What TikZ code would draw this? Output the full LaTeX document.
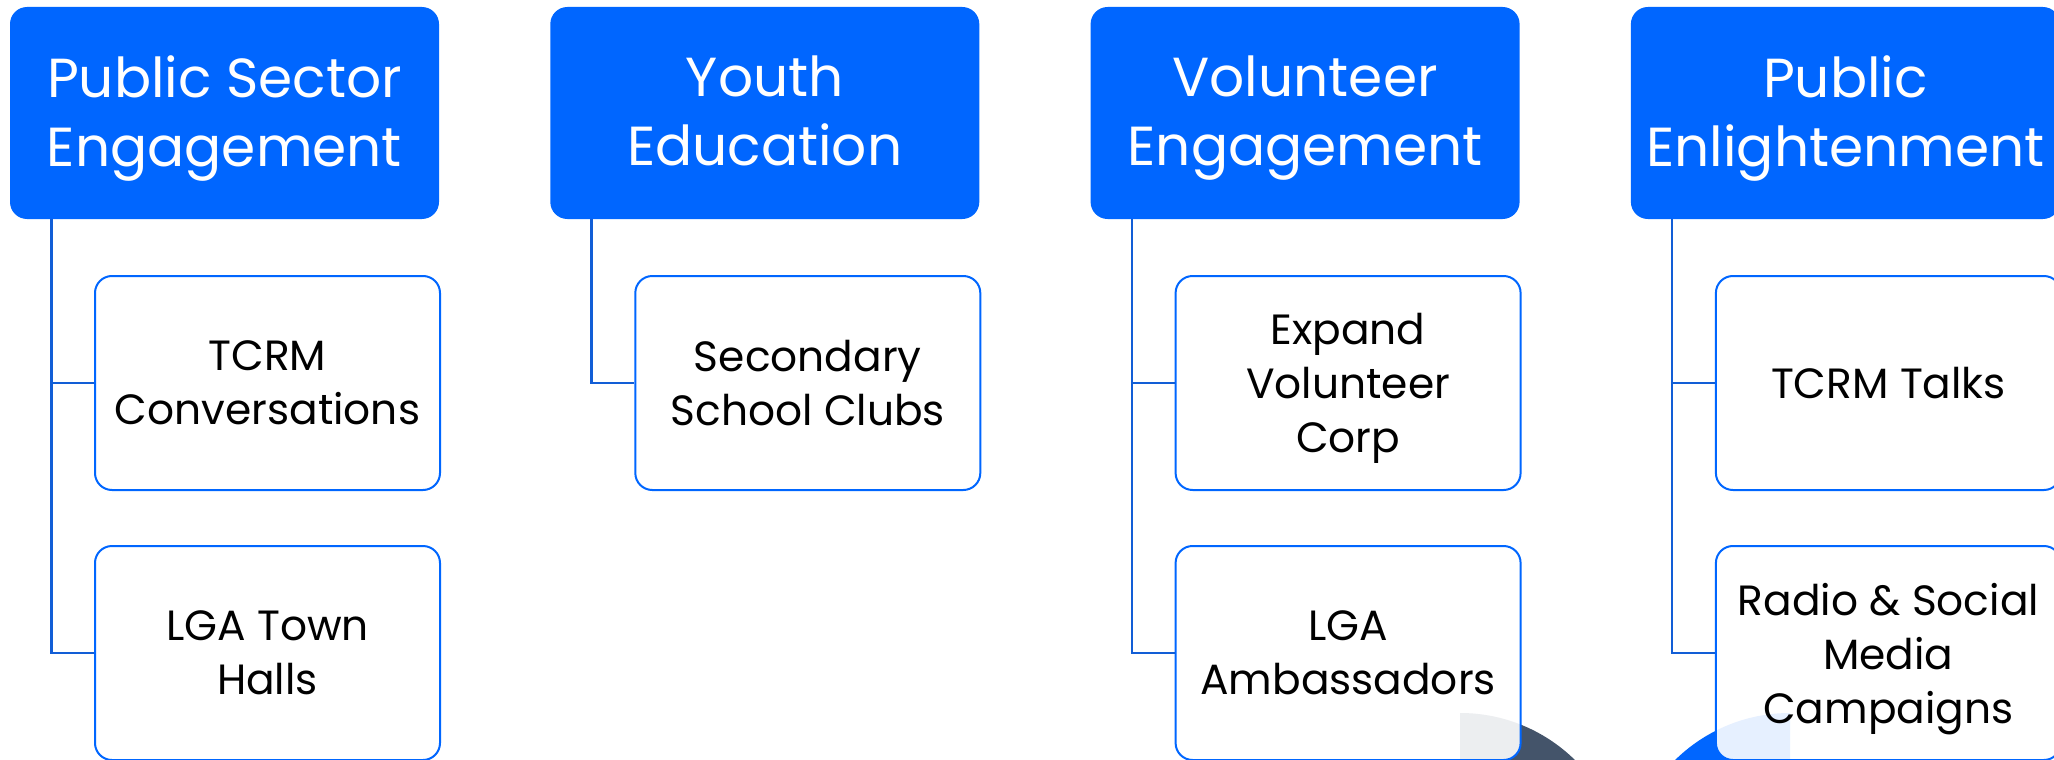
\documentclass[tikz,border=0pt]{standalone}
\usepackage{fontspec}
\setmainfont{Poppins}
\definecolor{hblue}{RGB}{0,102,255}
\definecolor{lblue}{RGB}{18,94,214}
\definecolor{slate}{HTML}{44546A}
\begin{document}
\begin{tikzpicture}[x=1pt,y=-1pt,
  head/.style={fill=hblue, rounded corners=17pt, minimum width=429pt, minimum height=212pt,
    inner sep=0pt},
  headtext/.style={text=white, align=center, font=\fontsize{55}{69}\selectfont, inner sep=0pt},
  child/.style={draw=hblue, line width=2pt, fill=white, fill opacity=0.9, text opacity=1,
    rounded corners=17pt, minimum width=345pt, minimum height=214pt, align=center,
    font=\fontsize{42.3}{54}\selectfont, inner sep=0pt, text depth=-2pt},
  link/.style={draw=lblue, line width=2.5pt}]
\useasboundingbox (0,0) rectangle (2054,760);
\clip (0,0) rectangle (2054,760);
% decorations behind boxes
\begin{scope}
  \clip (1460,700) rectangle (1700,780);
  \fill[slate] (1460,877) circle[radius=164pt];
\end{scope}
\begin{scope}
  \clip (1600,700) rectangle (1790,780);
  \fill[hblue] (1790,877) circle[radius=164pt];
\end{scope}
% headers
\node[head] (h1) at (224.5,113) {};
\node[head] (h2) at (764.8,113) {};
\node[head] (h3) at (1305.1,113) {};
\node[head] (h4) at (1845.4,113) {};
\node[headtext] (h1t) at ([yshift=-5pt]h1.center) {Public Sector\\Engagement};
\node[headtext] (h2t) at ([yshift=-5pt]h2.center) {Youth\\Education\vphantom{g}};
\node[headtext] (h3t) at ([yshift=-5pt]h3.center) {Volunteer\\Engagement};
\node[headtext] (h4t) at ([yshift=-5pt]h4.center) {Public\\Enlightenment};
% trunk coordinates
\coordinate (t1) at ([xshift=41.5pt]h1.south west);
\coordinate (t2) at ([xshift=41.5pt]h2.south west);
\coordinate (t3) at ([xshift=41.5pt]h3.south west);
\coordinate (t4) at ([xshift=41.5pt]h4.south west);
% children
\node[child] (c11) at (267.5,383) {TCRM\\Conversations};
\node[child] (c12) at (267.5,653) {LGA Town\\Halls};
\node[child] (c21) at (807.8,383) {Secondary\\School Clubs};
\node[child] (c31) at (1348.1,383) {Expand\\Volunteer\\Corp};
\node[child] (c32) at (1348.1,653) {LGA\\Ambassadors};
\node[child] (c41) at (1888.4,383) {TCRM Talks};
\node[child] (c42) at (1888.4,653) {Radio \& Social\\Media\\Campaigns};
% connectors
\draw[link] (t1) |- (c11.west);
\draw[link] (t1) |- (c12.west);
\draw[link] (t2) |- (c21.west);
\draw[link] (t3) |- (c31.west);
\draw[link] (t3) |- (c32.west);
\draw[link] (t4) |- (c41.west);
\draw[link] (t4) |- (c42.west);
\end{tikzpicture}
\end{document}
